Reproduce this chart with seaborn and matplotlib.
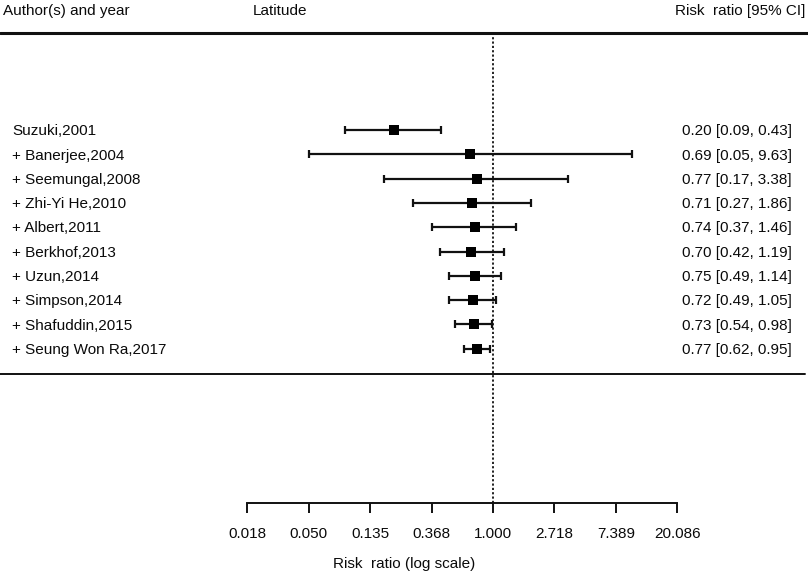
import numpy as np
import matplotlib
matplotlib.use("Agg")
import matplotlib.pyplot as plt
import matplotlib.transforms as mtransforms
import pandas as pd
import seaborn as sns

# Cumulative meta-analysis data
studies = ["Suzuki,2001", "+ Banerjee,2004", "+ Seemungal,2008", "+ Zhi-Yi He,2010",
           "+ Albert,2011", "+ Berkhof,2013", "+ Uzun,2014", "+ Simpson,2014",
           "+ Shafuddin,2015", "+ Seung Won Ra,2017"]
rr = [0.20, 0.69, 0.77, 0.71, 0.74, 0.70, 0.75, 0.72, 0.73, 0.77]
ci_low = [0.09, 0.05, 0.17, 0.27, 0.37, 0.42, 0.49, 0.49, 0.54, 0.62]
ci_high = [0.43, 9.63, 3.38, 1.86, 1.46, 1.19, 1.14, 1.05, 0.98, 0.95]
tick_exps = [-4, -3, -2, -1, 0, 1, 2, 3]

df = pd.DataFrame({"study": studies, "rr": rr, "lo": ci_low, "hi": ci_high})
df["row"] = np.arange(len(df))

sns.set_theme(style="white")
plt.rcParams["font.family"] = ["Liberation Sans", "DejaVu Sans"]
fs = 11
ink = "#0a0a0a"

fig = plt.figure(figsize=(8.08, 5.76), dpi=100)
# axes spans full width, bottom spine used as the log-scale axis
ax = fig.add_axes([0, 1 - 503 / 576, 1, 503 / 576])

px_per_unit = 61.4
x0 = 493
ax.set_xscale("log", base=np.e)
ax.set_xlim(np.exp(-x0 / px_per_unit), np.exp((808 - x0) / px_per_unit))

row_px0, row_step = 130, 24.3
ax.set_ylim((503 - row_px0) / row_step, -row_px0 / row_step)

# CI bars and point estimates
ax.errorbar(df["rr"], df["row"], xerr=[df["rr"] - df["lo"], df["hi"] - df["rr"]],
            fmt="none", ecolor="#111111", elinewidth=1.6, capsize=3.0, capthick=1.6, zorder=2)
sns.scatterplot(data=df, x="rr", y="row", marker="s", s=62, color="black",
                edgecolor="black", linewidth=0, ax=ax, zorder=3, legend=False)

# reference line at RR = 1
ax.axvline(1.0, ymin=0, ymax=1 - 33 / 503, color="#111111", lw=1.3, ls=(0, (1.2, 1.2)), zorder=1)

# horizontal rules
top_row = (33 - row_px0) / row_step
bot_row = (374 - row_px0) / row_step
ax.axhline(top_row, color="#111111", lw=2.2)
ax.axhline(bot_row, xmin=0, xmax=805 / 808, color="#111111", lw=1.4)

# text columns
tr_left = mtransforms.blended_transform_factory(fig.transFigure, ax.transData)
for i, r in df.iterrows():
    ax.text(12 / 808, r["row"] + 0.05, r["study"], transform=tr_left, ha="left", va="center",
            fontsize=fs, color=ink)
    ax.text(792 / 808, r["row"] + 0.05, f"{r['rr']:.2f} [{r['lo']:.2f}, {r['hi']:.2f}]",
            transform=tr_left, ha="right", va="center", fontsize=fs, color=ink)

fig.text(3 / 808, 1 - 11 / 576, "Author(s) and year", ha="left", va="center", fontsize=fs, color=ink)
fig.text(253 / 808, 1 - 11 / 576, "Latitude", ha="left", va="center", fontsize=fs, color=ink)
fig.text(805 / 808, 1 - 11 / 576, "Risk  ratio [95% CI]", ha="right", va="center", fontsize=fs, color=ink)

# bottom axis
for s in ["top", "left", "right"]:
    ax.spines[s].set_visible(False)
ax.spines["bottom"].set_bounds(np.exp(tick_exps[0]), np.exp(tick_exps[-1]))
ax.spines["bottom"].set_color("#111111")
ax.spines["bottom"].set_linewidth(1.4)
ax.set_xticks([np.exp(e) for e in tick_exps])
ax.set_xticklabels([f"{np.exp(e):.3f}" for e in tick_exps], fontsize=fs, color=ink)
ax.xaxis.set_minor_locator(matplotlib.ticker.NullLocator())
ax.tick_params(axis="x", bottom=True, direction="out", length=7, width=1.4, color="#111111", pad=10)
ax.set_yticks([])
ax.set_xlabel("Risk  ratio (log scale)", fontsize=fs, color=ink, labelpad=12)
ax.set_ylabel("")

fig.savefig("out.png", dpi=100)
